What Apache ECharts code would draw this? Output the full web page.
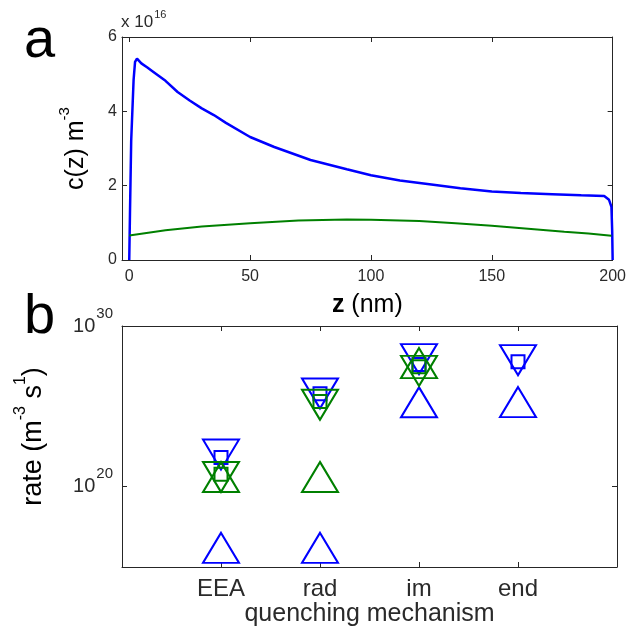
<!DOCTYPE html>
<html>
<head>
<meta charset="utf-8">
<script src="https://cdn.jsdelivr.net/npm/echarts@6/dist/echarts.min.js"></script>
<style>
  html, body { margin: 0; padding: 0; background: #ffffff; }
  #chart { width: 629px; height: 636px; }
</style>
</head>
<body>
<div id="chart"></div>
<script>
// ---- Panel a: concentration profiles c(z), values in units of 1e16 m^-3 ----
const zBlue = [0, 0.3, 0.8, 1.8, 2.4, 3.2, 5, 7.5, 10, 15, 20, 25, 30, 35, 40, 50, 60, 75, 90, 100,
               112, 125, 137, 150, 162, 175, 187, 196.5, 198.5, 199.5, 199.8, 200];
const cBlue = [0, 1.25, 3.2, 4.85, 5.33, 5.42, 5.29, 5.18, 5.06, 4.82, 4.52, 4.29, 4.08, 3.9, 3.69, 3.31, 3.04, 2.69, 2.44, 2.28,
               2.14, 2.03, 1.93, 1.84, 1.8, 1.77, 1.74, 1.72, 1.62, 1.43, 0.8, 0];
const zGreen = [0, 15, 30, 50, 70, 90, 100, 120, 135, 150, 165, 180, 190, 199.5];
const cGreen = [0.66, 0.8, 0.9, 0.99, 1.06, 1.09, 1.08, 1.05, 0.99, 0.92, 0.84, 0.76, 0.71, 0.65];
const zTicks = [0, 50, 100, 150, 200];

// ---- Panel b: quenching rates (m^-3 s^-1) per mechanism ----
const mechanisms = ['EEA', 'rad', 'im', 'end'];
const blueHigh = [1.0e22, 6.3e25, 8.7e27, 7.5e27];   // downward triangles
const blueMid  = [6.5e21, 6.0e25, 4.0e27, 5.9e27];   // squares
const blueLow  = [1.55e16, 1.55e16, 1.8e25, 1.85e25]; // upward triangles
const greenHigh = [4.0e20, 1.26e25, 1.6e27, null];
const greenMid  = [6.0e20, 2.0e25, 2.95e27, null];
const greenLow  = [4.0e20, 4.0e20, 4.9e27, null];
const rateTicks = [1e20, 1e30];

const BLUE = '#0000ff';
const GREEN = '#008000';
const AX = '#262626';
const TXT = '#2a2a2a';
const FONT = '"Liberation Sans", Arial, Helvetica, sans-serif';

const chart = echarts.init(document.getElementById('chart'), null, { renderer: 'canvas' });

// log-axis tick positions, nudged inward so the upper bound survives float rounding
const rateTickPos = rateTicks.map(v => v * (1 - 1e-9));

function frameAxis(extra) {
  return Object.assign({
    axisLine: { show: true, onZero: false, lineStyle: { color: AX, width: 1 } },
    splitLine: { show: false },
    axisTick: { show: true, inside: true, length: 5, lineStyle: { color: AX, width: 1 } },
    axisLabel: { show: false },
    silent: true
  }, extra);
}

function pairs(values) {
  const out = [];
  values.forEach((v, i) => { if (v != null) out.push([i + 1, v]); });
  return out;
}

function marker(name, values, color, symbol, size, rotate) {
  return {
    name: name,
    type: 'scatter',
    xAxisIndex: 2,
    yAxisIndex: 2,
    data: pairs(values),
    symbol: symbol,
    symbolSize: size,
    symbolRotate: rotate || 0,
    itemStyle: { color: 'rgba(0,0,0,0)', borderColor: color, borderWidth: 2, opacity: 1 },
    emphasis: { disabled: true },
    silent: true
  };
}

const supRich = (main, sup, pad) => ({
  m: { fontSize: main, fontFamily: FONT, color: '#000', verticalAlign: 'middle' },
  s: { fontSize: sup, fontFamily: FONT, color: '#000', verticalAlign: 'top', padding: [0, 0, pad, 0] }
});

const option = {
  animation: false,
  backgroundColor: '#ffffff',
  grid: [
    { left: 122, top: 37, width: 492, height: 223 },
    { left: 122, top: 326, width: 495, height: 241 }
  ],
  xAxis: [
    frameAxis({
      gridIndex: 0, type: 'value', min: -3, max: 200, position: 'bottom',
      axisTick: { show: true, inside: true, length: 5, customValues: zTicks, lineStyle: { color: AX } },
      axisLabel: { show: true, customValues: zTicks, fontSize: 16, color: TXT, fontFamily: FONT, margin: 9 },
      name: '{z|z}{n| (nm)}', nameLocation: 'middle', nameGap: 33,
      nameTextStyle: { rich: {
        z: { fontSize: 25, fontFamily: FONT, fontWeight: 'bold', color: '#000' },
        n: { fontSize: 25, fontFamily: FONT, color: '#000' }
      } }
    }),
    frameAxis({
      gridIndex: 0, type: 'value', min: -3, max: 200, position: 'top',
      axisTick: { show: true, inside: true, length: 5, customValues: zTicks, lineStyle: { color: AX } }
    }),
    frameAxis({
      gridIndex: 1, type: 'value', min: 0, max: 5, position: 'bottom',
      axisTick: { show: true, inside: true, length: 5, customValues: [1, 2, 3, 4], lineStyle: { color: AX } },
      axisLabel: { show: true, customValues: [1, 2, 3, 4], fontSize: 24, color: TXT, fontFamily: FONT, margin: 10,
        formatter: v => mechanisms[Math.round(v) - 1] || '' },
      name: 'quenching mechanism', nameLocation: 'middle', nameGap: 34,
      nameTextStyle: { fontSize: 25, fontFamily: FONT, color: TXT }
    }),
    frameAxis({
      gridIndex: 1, type: 'value', min: 0, max: 5, position: 'top',
      axisTick: { show: true, inside: true, length: 5, customValues: [1, 2, 3, 4], lineStyle: { color: AX } }
    })
  ],
  yAxis: [
    frameAxis({
      gridIndex: 0, type: 'value', min: 0, max: 6, interval: 2, position: 'left',
      axisLabel: { show: true, fontSize: 16, color: TXT, fontFamily: FONT, margin: 5 },
      name: '{m|c(z) m}{s|-3}', nameLocation: 'middle', nameGap: 26, nameRotate: 90,
      nameTextStyle: { rich: supRich(25, 15, 24) }
    }),
    frameAxis({ gridIndex: 0, type: 'value', min: 0, max: 6, interval: 2, position: 'right' }),
    frameAxis({
      gridIndex: 1, type: 'log', logBase: 10, min: 1e15, max: 1e30, position: 'left',
      axisTick: { show: true, inside: true, length: 5, customValues: rateTickPos, lineStyle: { color: AX } },
      axisLabel: { show: true, customValues: rateTickPos, margin: 9,
        formatter: v => '{m|10}{s|' + Math.round(Math.log10(v)) + '}',
        rich: {
          m: { fontSize: 20, fontFamily: FONT, color: TXT, verticalAlign: 'middle' },
          s: { fontSize: 15, fontFamily: FONT, color: TXT, verticalAlign: 'top', padding: [0, 0, 25, 1] }
        } },
      name: '{m|rate (m}{s|-3}{m| s}{s|1}{m|)}', nameLocation: 'middle', nameGap: 67, nameRotate: 90,
      nameTextStyle: { rich: supRich(27, 16, 26), padding: [0, 0, 0, 20] }
    }),
    frameAxis({
      gridIndex: 1, type: 'log', logBase: 10, min: 1e15, max: 1e30, position: 'right',
      axisTick: { show: true, inside: true, length: 5, customValues: rateTickPos, lineStyle: { color: AX } }
    })
  ],
  graphic: [
    { type: 'text', x: 24, y: 42, silent: true,
      style: { text: 'a', fontSize: 56, fontFamily: FONT, fill: '#000', verticalAlign: 'middle' } },
    { type: 'text', x: 24, y: 318, silent: true,
      style: { text: 'b', fontSize: 56, fontFamily: FONT, fill: '#000', verticalAlign: 'middle' } },
    { type: 'text', x: 121, y: 22, silent: true,
      style: { text: '{m|x 10}{s|16}', verticalAlign: 'middle',
        rich: {
          m: { fontSize: 17, fontFamily: FONT, fill: TXT, verticalAlign: 'middle' },
          s: { fontSize: 11, fontFamily: FONT, fill: TXT, verticalAlign: 'top', padding: [0, 0, 14, 1] }
        } } }
  ],
  series: [
    {
      name: 'c blue', type: 'line', xAxisIndex: 0, yAxisIndex: 0,
      data: zBlue.map((z, i) => [z, cBlue[i]]),
      showSymbol: false, symbol: 'none', smooth: false,
      lineStyle: { color: BLUE, width: 2.5 }, silent: true
    },
    {
      name: 'c green', type: 'line', xAxisIndex: 0, yAxisIndex: 0,
      data: zGreen.map((z, i) => [z, cGreen[i]]),
      showSymbol: false, symbol: 'none', smooth: false,
      lineStyle: { color: GREEN, width: 2 }, silent: true
    },
    marker('blue high', blueHigh, BLUE, 'triangle', [36, 30], 180),
    marker('blue mid', blueMid, BLUE, 'rect', 13),
    marker('blue low', blueLow, BLUE, 'triangle', [36, 30]),
    marker('green high', greenHigh, GREEN, 'triangle', [36, 30], 180),
    marker('green mid', greenMid, GREEN, 'rect', 13),
    marker('green low', greenLow, GREEN, 'triangle', [36, 30])
  ]
};

chart.setOption(option);
</script>
</body>
</html>
